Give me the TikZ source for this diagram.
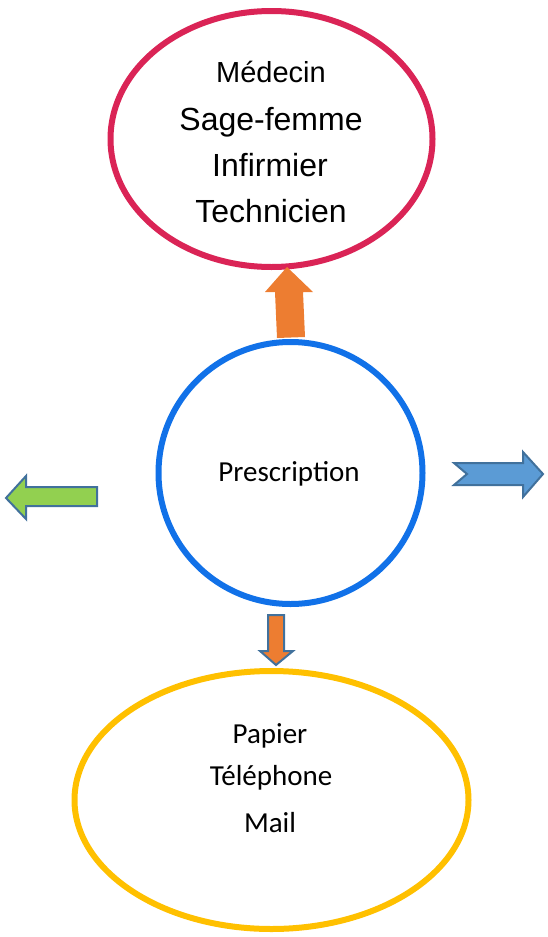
\documentclass[tikz,border=0pt]{standalone}
\usepackage{fontspec}
\setmainfont{Liberation Sans}
\newfontfamily\calib{Carlito}
\definecolor{redline}{RGB}{218,36,86}
\definecolor{blueline}{RGB}{17,113,232}
\definecolor{yellowline}{RGB}{255,192,0}
\definecolor{orangefill}{RGB}{237,125,49}
\definecolor{greenfill}{RGB}{146,208,80}
\definecolor{bluefill}{RGB}{91,155,213}
\definecolor{arrowedge}{RGB}{65,113,156}
\begin{document}
\begin{tikzpicture}[x=1pt,y=-1pt,
  ring/.style={line width=6pt},
  blockarrow/.style={draw=arrowedge,line width=2pt,line join=miter},
  arial/.style={anchor=base,inner sep=0pt,font=\fontsize{32}{38}\selectfont},
  calibri/.style={anchor=base,inner sep=0pt,font=\calib\fontsize{29}{35}\selectfont}]
\useasboundingbox (0,0) rectangle (547,937);
% ellipses
\draw[ring,draw=redline] (271.5,139) ellipse [x radius=161,y radius=128];
\draw[ring,draw=blueline] (290.5,473) ellipse [x radius=132,y radius=131];
\draw[ring,draw=yellowline] (271.5,800) ellipse [x radius=197,y radius=129];
% texts
\node[arial,font=\fontsize{29}{34}\selectfont] (t1) at (271,82) {Médecin};
\node[arial] (t2) at (271,130) {Sage-femme};
\node[arial] (t3) at (270,176) {Infirmier};
\node[arial] (t4) at (271,222) {Technicien};
\node[calibri] (p) at (289,481) {Prescription};
\node[calibri] (m1) at (270,743) {Papier};
\node[calibri] (m2) at (271,785) {Téléphone};
\node[calibri] (m3) at (270,832) {Mail};
% orange up arrow
\fill[orangefill] (277,338) -- (305,337) -- (303,292) -- (313,292) -- (287,267)
  -- (265,292) -- (275,292) -- cycle;
% green left arrow
\draw[blockarrow,fill=greenfill] (97,487) -- (26,487) -- (26,476) -- (6,498)
  -- (26,519) -- (26,506) -- (97,506) -- cycle;
% blue right arrow
\draw[blockarrow,fill=bluefill] (454,463) -- (523,463) -- (523,452) -- (543,474)
  -- (523,497) -- (523,485) -- (454,485) -- (467,474) -- cycle;
% orange down arrow
\draw[blockarrow,fill=orangefill] (268,615) -- (284,615) -- (284,651) -- (293,651)
  -- (276,665) -- (260,651) -- (268,651) -- cycle;
\end{tikzpicture}
\end{document}
